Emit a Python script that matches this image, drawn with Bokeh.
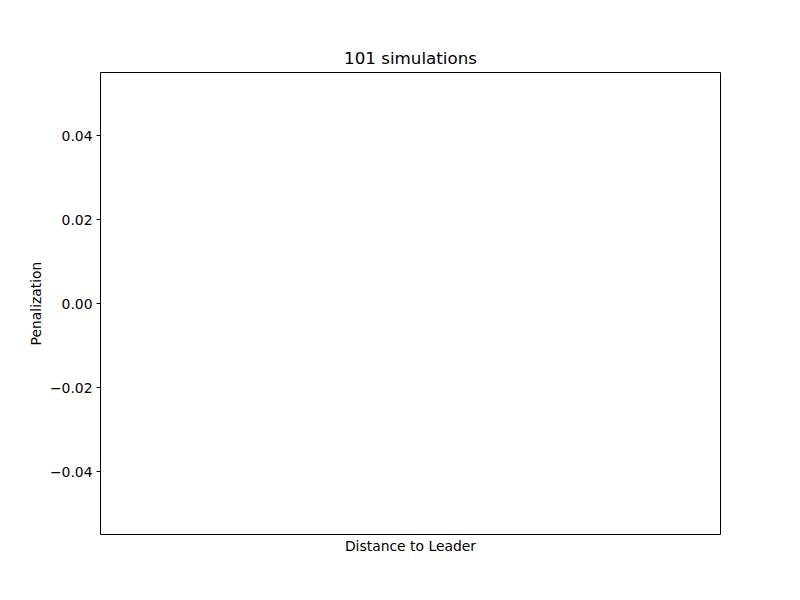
from bokeh.plotting import figure
from bokeh.models import Range1d, FixedTicker, ColumnDataSource
from bokeh.embed import file_html
from bokeh.resources import INLINE

# Data (the reference chart is empty)
distance = []
penalization = []
title_text = "101 simulations"
x_label = "Distance to Leader"
y_label = "Penalization"
y_ticks = [-0.04, -0.02, 0.0, 0.02, 0.04]
y_tick_labels = ["\u22120.04", "\u22120.02", "0.00", "0.02", "0.04"]

FONT = "DejaVu Sans"

p = figure(width=800, height=600, output_backend="svg", toolbar_location=None,
           x_range=Range1d(-0.055, 0.055), y_range=Range1d(-0.055, 0.055),
           min_border_left=100, min_border_right=80, min_border_top=72, min_border_bottom=66)

src = ColumnDataSource(dict(x=distance, y=penalization))
p.scatter("x", "y", source=src, color="#1f77b4")

p.title.text = title_text
p.title.align = "center"
p.title.text_font = FONT
p.title.text_font_size = "16.7px"
p.title.text_font_style = "normal"
p.title.text_color = "black"
p.title.standoff = 9

p.xgrid.visible = False
p.ygrid.visible = False
p.outline_line_color = "black"
p.outline_line_width = 1
p.outline_line_alpha = 1

xa = p.xaxis[0]
xa.ticker = FixedTicker(ticks=[])
xa.axis_line_color = None
xa.major_tick_line_color = None
xa.minor_tick_line_color = None
xa.major_label_text_font_size = "0px"
xa.axis_label = x_label
xa.axis_label_text_font = FONT
xa.axis_label_text_font_size = "13.9px"
xa.axis_label_text_font_style = "normal"
xa.axis_label_text_color = "black"
xa.axis_label_standoff = 3

ya = p.yaxis[0]
ya.ticker = FixedTicker(ticks=y_ticks)
ya.major_label_overrides = {t: l for t, l in zip(y_ticks, y_tick_labels)}
ya.axis_line_color = None
ya.minor_tick_line_color = None
ya.major_tick_in = 0
ya.major_tick_out = 4
ya.major_tick_line_color = "black"
ya.major_label_standoff = 4
ya.major_label_text_font = FONT
ya.major_label_text_font_size = "13.9px"
ya.major_label_text_color = "black"
ya.axis_label = y_label
ya.axis_label_text_font = FONT
ya.axis_label_text_font_size = "13.9px"
ya.axis_label_text_font_style = "normal"
ya.axis_label_text_color = "black"
ya.axis_label_standoff = 3

open("out.html", "w").write(file_html(p, INLINE))
